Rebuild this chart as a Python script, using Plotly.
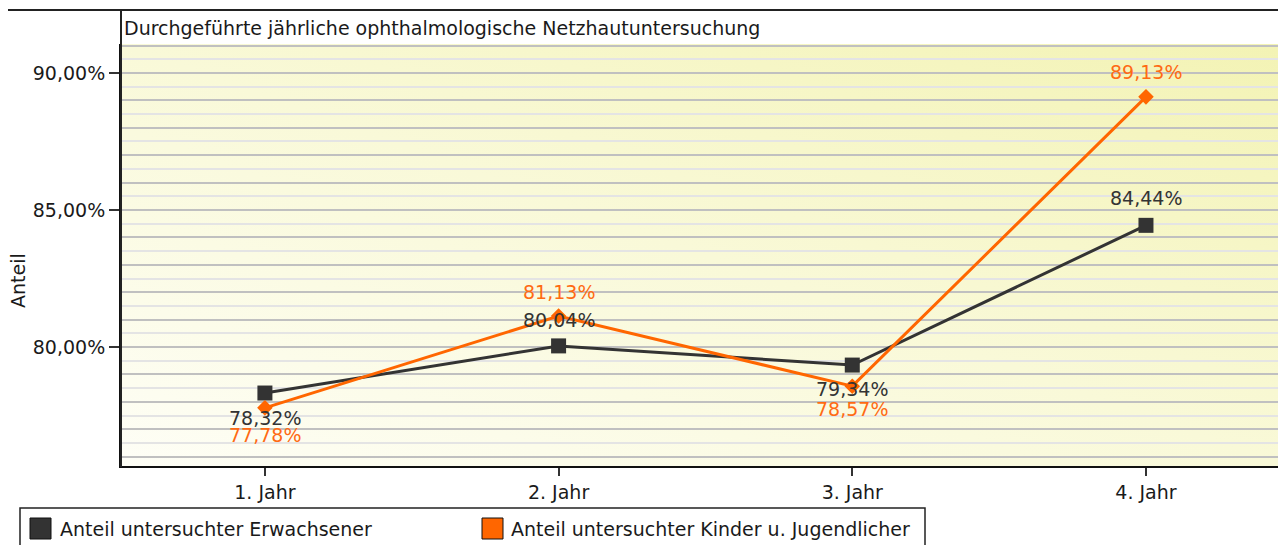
import base64
import plotly.graph_objects as go

# ---------------- data ----------------
years = ["1. Jahr", "2. Jahr", "3. Jahr", "4. Jahr"]
adults = [78.32, 80.04, 79.34, 84.44]
kids = [77.78, 81.13, 78.57, 89.13]
series_names = ["Anteil untersuchter Erwachsener",
                "Anteil untersuchter Kinder u. Jugendlicher"]
title_text = "Durchgeführte jährliche ophthalmologische Netzhautuntersuchung"
y_title = "Anteil"

# ---------------- layout constants ----------------
# the page body adds an 8px offset, so the figure is 8px smaller
W, H = 1278, 537
L, R, T, B = 113, 2, 36, 79
PW, PH = W - L - R, H - T - B
FONT = "DejaVu Sans"
FS = 19
DARK = "#333333"
ORANGE = "#ff6600"
ORANGE_TXT = "#ff6a13"
GRID_DARK = "#c0c0c0"
GRID_LIGHT = "#e4e4e4"
Y_RANGE = [75.657, 91.058]
X_RANGE = [-0.490, 3.470]
adult_shift = [-25, 26, -24, 27]
kid_shift = [-27, 24, -23, 25]


def PX(px):
    # px: page pixel in the reference
    return (px - 8 - L) / PW


def PY(py):
    return (H - B - (py - 8)) / PH


def fmt(v):
    return f"{v:.2f}".replace(".", ",") + "%"


svg = ("<svg xmlns='http://www.w3.org/2000/svg' width='100' height='100' "
       "viewBox='0 0 100 100' preserveAspectRatio='none'><defs>"
       "<linearGradient id='g' x1='0' y1='1' x2='1' y2='0'>"
       "<stop offset='0' stop-color='#fefef6'/>"
       "<stop offset='0.5' stop-color='#f9f9d8'/>"
       "<stop offset='1' stop-color='#f3f3b4'/>"
       "</linearGradient></defs>"
       "<rect width='100' height='100' fill='url(#g)'/></svg>")
bg_src = "data:image/svg+xml;base64," + base64.b64encode(svg.encode()).decode()

fig = go.Figure()

# helper trace so the overlay grid axis exists
fig.add_trace(go.Scatter(x=years, y=adults, yaxis="y2", mode="lines",
                         opacity=0, showlegend=False, hoverinfo="skip"))

fig.add_trace(go.Scatter(
    x=years, y=adults, name=series_names[0], mode="lines+markers",
    line=dict(color=DARK, width=3),
    marker=dict(symbol="square", size=15, color=DARK),
    showlegend=False))
fig.add_trace(go.Scatter(
    x=years, y=kids, name=series_names[1], mode="lines+markers",
    line=dict(color=ORANGE, width=3),
    marker=dict(symbol="diamond", size=12, color=ORANGE),
    showlegend=False))

annotations = []
for xv, v, s in zip(years, adults, adult_shift):
    annotations.append(dict(x=xv, y=v, xref="x", yref="y", text=fmt(v),
                            showarrow=False, yshift=s,
                            font=dict(family=FONT, size=FS, color=DARK)))
for xv, v, s in zip(years, kids, kid_shift):
    annotations.append(dict(x=xv, y=v, xref="x", yref="y", text=fmt(v),
                            showarrow=False, yshift=s,
                            font=dict(family=FONT, size=FS, color=ORANGE_TXT)))

# chart title in the white band
annotations.append(dict(x=PX(122), y=PY(28), xref="paper", yref="paper",
                        xanchor="left", yanchor="middle", text=title_text,
                        showarrow=False,
                        font=dict(family=FONT, size=FS, color="#1a1a1a")))
# y axis title
annotations.append(dict(x=PX(18), y=PY(280), xref="paper", yref="paper",
                        xanchor="center", yanchor="middle", text=y_title,
                        textangle=-90, showarrow=False,
                        font=dict(family=FONT, size=FS, color="#1a1a1a")))
# legend texts
annotations.append(dict(x=PX(58), y=PY(529), xref="paper", yref="paper",
                        xanchor="left", yanchor="middle", text=series_names[0],
                        showarrow=False,
                        font=dict(family=FONT, size=FS, color="#1a1a1a")))
annotations.append(dict(x=PX(509), y=PY(529), xref="paper", yref="paper",
                        xanchor="left", yanchor="middle", text=series_names[1],
                        showarrow=False,
                        font=dict(family=FONT, size=FS, color="#1a1a1a")))

shapes = [
    # outer frame
    dict(type="line", xref="paper", yref="paper", x0=PX(5), x1=PX(1285),
         y0=PY(10), y1=PY(10), line=dict(color="#222", width=2)),
    dict(type="line", xref="paper", yref="paper", x0=PX(5), x1=PX(5),
         y0=PY(10), y1=PY(560), line=dict(color="#222", width=2)),
    # plot box left line (continues through the title band)
    dict(type="line", xref="paper", yref="paper", x0=PX(121), x1=PX(121),
         y0=PY(10), y1=PY(467), line=dict(color="#222", width=2)),
    # right border
    dict(type="line", xref="paper", yref="paper", x0=PX(1285), x1=PX(1285),
         y0=PY(10), y1=PY(467), line=dict(color="#999", width=1.5)),
    # legend box
    dict(type="rect", xref="paper", yref="paper", x0=PX(20), x1=PX(925),
         y0=PY(508), y1=PY(570), line=dict(color="#222", width=1.5)),
    dict(type="rect", xref="paper", yref="paper", x0=PX(30), x1=PX(51),
         y0=PY(518), y1=PY(539), fillcolor=DARK, line=dict(color="#111", width=1)),
    dict(type="rect", xref="paper", yref="paper", x0=PX(482), x1=PX(503),
         y0=PY(518), y1=PY(539), fillcolor=ORANGE, line=dict(color="#111", width=1)),
]

fig.update_layout(
    width=W, height=H,
    margin=dict(l=L, r=R, t=T, b=B, pad=0),
    paper_bgcolor="white",
    plot_bgcolor="rgba(0,0,0,0)",
    separators=",.",
    font=dict(family=FONT, size=FS, color="#1a1a1a"),
    showlegend=False,
    hovermode=False,
    images=[dict(source=bg_src, xref="paper", yref="paper", x=0, y=1,
                 sizex=1, sizey=1, xanchor="left", yanchor="top",
                 sizing="stretch", layer="below")],
    xaxis=dict(type="category", categoryorder="array", categoryarray=years,
               range=X_RANGE, showgrid=False, zeroline=False,
               showline=True, linecolor="#111", linewidth=2,
               ticks="outside", ticklen=8, tickwidth=1.5, tickcolor="#333",
               tickfont=dict(family=FONT, size=FS, color="#1a1a1a")),
    yaxis=dict(range=Y_RANGE, tickmode="linear", tick0=80, dtick=5,
               tickformat=".2f", ticksuffix="%",
               showgrid=True, gridcolor=GRID_DARK, gridwidth=2,
               minor=dict(tick0=0, dtick=1, showgrid=True,
                          gridcolor=GRID_DARK, gridwidth=2, ticks=""),
               zeroline=False, showline=True, linecolor="#111", linewidth=2,
               ticks="outside", ticklen=10, tickwidth=1.5, tickcolor="#333",
               tickfont=dict(family=FONT, size=FS, color="#1a1a1a")),
    yaxis2=dict(range=Y_RANGE, overlaying="y", anchor="x", tickmode="linear",
                tick0=0.5, dtick=1, showgrid=True, gridcolor=GRID_LIGHT,
                gridwidth=2, showticklabels=False, ticks="", zeroline=False,
                showline=False),
    annotations=annotations,
    shapes=shapes,
)

fig.write_html("out.html")
